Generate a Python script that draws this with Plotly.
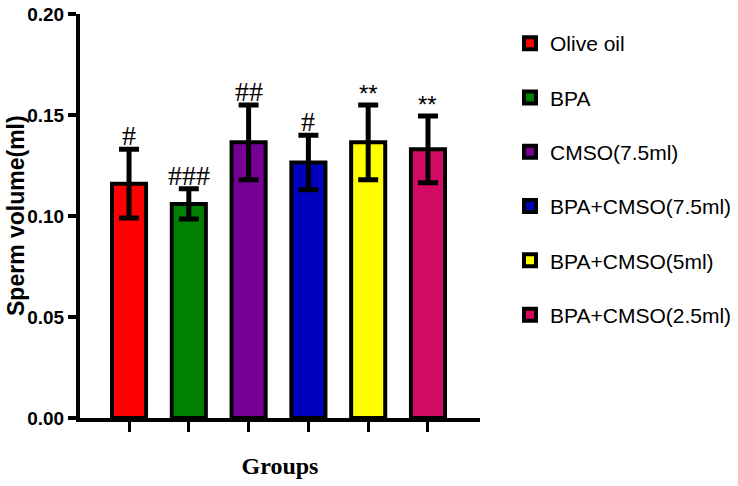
import plotly.graph_objects as go

groups = ["Olive oil", "BPA", "CMSO(7.5ml)", "BPA+CMSO(7.5ml)", "BPA+CMSO(5ml)", "BPA+CMSO(2.5ml)"]
means = [0.116, 0.106, 0.1365, 0.1265, 0.1365, 0.133]
sds = [0.017, 0.0075, 0.0185, 0.0135, 0.0185, 0.0165]
marks = ["#", "###", "##", "#", "**", "**"]
colors = ["#FF0000", "#008000", "#760096", "#0000BE", "#FFFF00", "#D20A64"]
yticks = [0.00, 0.05, 0.10, 0.15, 0.20]
ytick_text = ["0.00", "0.05", "0.10", "0.15", "0.20"]

fig = go.Figure()
for g, m, s, c in zip(groups, means, sds, colors):
    fig.add_trace(go.Bar(
        x=[g], y=[m], name=g, legendgroup=g,
        width=0.57,
        marker=dict(color=c, line=dict(color="black", width=4)),
        error_y=dict(type="data", array=[s], visible=True, color="black", thickness=5, width=10),
    ))

for g, m, s, t in zip(groups, means, sds, marks):
    star = t.startswith("*")
    fig.add_annotation(
        x=g, y=m + s, text=t, showarrow=False, yanchor="bottom", yshift=-4,
        font=dict(family="Liberation Serif" if not star else "Liberation Sans", size=28 if not star else 24, color="black"),
    )

# y-axis title as rotated text (centred on the plot area)
fig.add_annotation(
    xref="paper", yref="paper", x=(16 - 80) / 400, y=0.5,
    xanchor="center", yanchor="middle", textangle=-90, showarrow=False,
    text="<b>Sperm volume(ml)</b>",
    font=dict(family="Liberation Sans", size=23, color="black"),
)

fig.update_layout(
    width=738, height=486,
    margin=dict(l=80, r=258, t=14, b=68, autoexpand=False),
    paper_bgcolor="white", plot_bgcolor="white",
    barmode="overlay",
    showlegend=True,
    legend=dict(
        xref="container", yref="container",
        x=510 / 738, xanchor="left", y=1 - 23 / 486, yanchor="top",
        font=dict(family="Liberation Sans", size=21, color="black"),
        tracegroupgap=24, traceorder="grouped", maxheight=470,
        bgcolor="rgba(0,0,0,0)",
    ),
    font=dict(family="Liberation Sans", color="black"),
)
fig.update_xaxes(
    type="category", categoryorder="array", categoryarray=groups,
    range=[-0.82, 5.87], automargin=False,
    showline=True, linecolor="black", linewidth=4,
    ticks="outside", ticklen=10, tickwidth=2.5, tickcolor="black",
    showticklabels=False, showgrid=False, zeroline=False,
    title=dict(text="<b>Groups</b>", font=dict(family="Liberation Serif", size=24, color="black"), standoff=27),
)
fig.update_yaxes(
    range=[0, 0.2], automargin=False,
    tickvals=yticks, ticktext=ytick_text,
    showline=True, linecolor="black", linewidth=4,
    ticks="outside", ticklen=8, tickwidth=3.5, tickcolor="black",
    tickfont=dict(family="Liberation Sans", size=19, color="black", weight="bold"),
    showgrid=False, zeroline=False,
)

fig.write_html("out.html", config={"displayModeBar": False},
               post_script="document.body.style.margin='0';")
